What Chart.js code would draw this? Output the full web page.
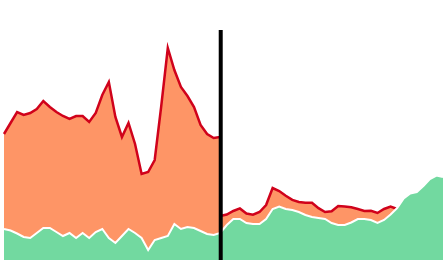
<!DOCTYPE html>
<html>
<head>
<meta charset="utf-8">
<style>
  html, body { margin: 0; padding: 0; background: #fff; }
  canvas { display: block; }
</style>
</head>
<body>
<canvas id="areaChart" width="445" height="260"></canvas>

<script src="https://cdn.jsdelivr.net/npm/chart.js"></script>
<script>
  // index of the vertical marker (split between the two orange runs)
  const splitIndex = 33;

  const orangeBefore = [
    126, 137, 148, 145, 147, 151, 159, 153, 148, 144, 141, 144, 144, 138, 147, 165, 178,
    143, 123, 137, 116, 86, 88, 100, 154, 212, 190, 173, 164, 153, 135, 126, 122, 123,
  ];

  const orangeAfter = [
    44, 45.5, 49, 51.6, 46.5, 45.3, 48, 55, 72, 69, 64.3, 60.1, 58, 57.3, 57.3, 51.8,
    48, 48.8, 54, 53.4, 52.7, 51, 49, 49.2, 47, 51, 53.5, 51,
  ];

  const greenValues = [
    31, 29.5, 26.5, 23, 22, 27, 32, 32, 28, 24, 27, 22, 27, 22, 28, 31, 22, 17, 24, 31,
    27, 22, 10, 20, 22, 24, 36, 31, 33, 32, 29, 26, 25, 27,
    35, 41, 41, 37, 36, 36, 41, 51, 53.5, 51, 50, 48, 45, 43, 42, 41, 37, 35, 35, 37.5,
    41, 41, 40, 37, 40, 45.5, 52, 61.5, 66.5, 68, 74, 81, 84.5, 83,
  ];

  const labels = greenValues.map((_, i) => i);

  // pad the orange runs with nulls so they line up on the shared axis
  const beforeData = labels.map((i) => (i <= splitIndex ? orangeBefore[i] : null));
  const afterData = labels.map((i) => {
    const k = i - splitIndex;
    return k >= 0 && k < orangeAfter.length ? orangeAfter[k] : null;
  });

  const markerLine = {
    id: "markerLine",
    afterDatasetsDraw(chart) {
      const { ctx, scales } = chart;
      const x = scales.x.getPixelForValue(splitIndex) + 0.5;
      ctx.save();
      ctx.strokeStyle = "#000";
      ctx.lineWidth = 4;
      ctx.beginPath();
      ctx.moveTo(x, scales.y.getPixelForValue(230));
      ctx.lineTo(x, scales.y.getPixelForValue(0));
      ctx.stroke();
      ctx.restore();
    },
  };

  const orangeStyle = {
    borderColor: "#d0021b",
    backgroundColor: "#fe9566",
    borderWidth: 2.5,
    pointRadius: 0,
    tension: 0,
    fill: "origin",
    spanGaps: false,
    order: 2,
  };

  new Chart(document.getElementById("areaChart"), {
    type: "line",
    data: {
      labels: labels,
      datasets: [
        {
          label: "green",
          data: greenValues,
          borderColor: "#ffffff",
          backgroundColor: "#72d9a0",
          borderWidth: 2,
          pointRadius: 0,
          tension: 0,
          fill: "origin",
          order: 1,
        },
        Object.assign({ label: "before", data: beforeData }, orangeStyle),
        Object.assign({ label: "after", data: afterData }, orangeStyle),
      ],
    },
    options: {
      responsive: false,
      animation: false,
      layout: { padding: { left: 4, right: 2, top: 0, bottom: 0 } },
      plugins: {
        legend: { display: false },
        tooltip: { enabled: false },
      },
      scales: {
        x: { display: false, offset: false },
        y: { display: false, min: 0, max: 260 },
      },
    },
    plugins: [markerLine],
  });
</script>
</body>
</html>
